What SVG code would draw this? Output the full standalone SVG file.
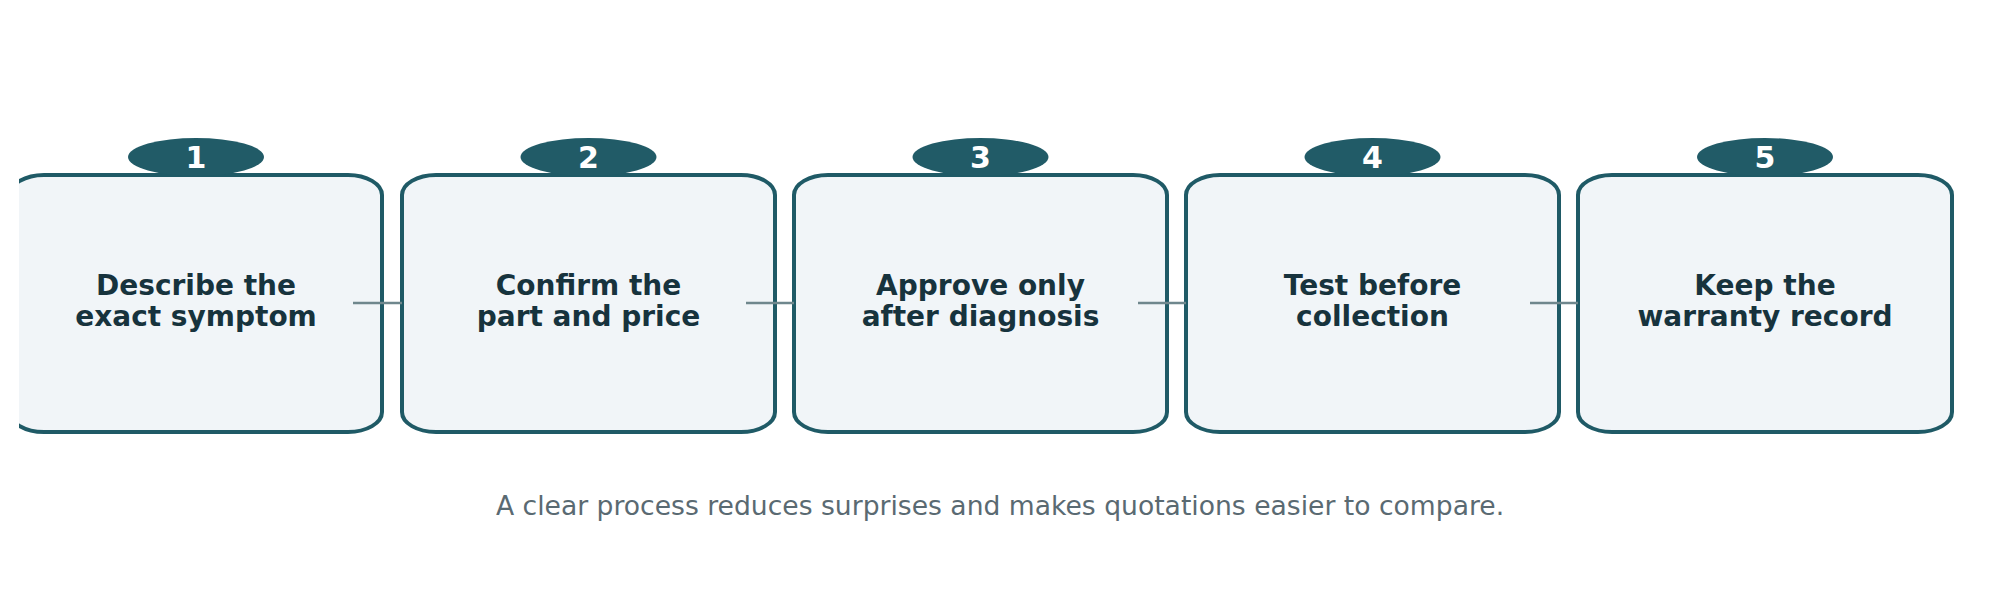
<svg xmlns="http://www.w3.org/2000/svg" width="1999" height="596" viewBox="0 0 1999 596">
<style>
.box{fill:#f1f5f8;stroke:#1f5a66;stroke-width:4}
.badge{fill:#215b67}
.num{fill:#ffffff;font-family:"DejaVu Sans",sans-serif;font-weight:bold;font-size:30px;text-anchor:middle}
.lbl{fill:#17333d;font-family:"DejaVu Sans",sans-serif;font-weight:bold;font-size:28px;text-anchor:middle}
.conn{stroke:#6f878d;stroke-width:2.5;fill:none}
.cap{fill:#5a6a72;font-family:"DejaVu Sans",sans-serif;font-size:26.6px;text-anchor:middle}
</style>
<defs>
<clipPath id="clip1"><rect x="19" y="0" width="1980" height="596"/></clipPath>
</defs>
<rect width="1999" height="596" fill="#ffffff"/>
<g id="node1" clip-path="url(#clip1)">
<rect class="box" x="10" y="175" width="372" height="257" rx="34" ry="20"/>
<ellipse class="badge" cx="196" cy="157" rx="68" ry="19"/>
<text class="num" x="196" y="168">1</text>
<text class="lbl" x="196" y="295">Describe the</text>
<text class="lbl" x="196" y="326">exact symptom</text>
</g>
<g id="node2">
<rect class="box" x="402" y="175" width="373" height="257" rx="34" ry="20"/>
<ellipse class="badge" cx="588.5" cy="157" rx="68" ry="19"/>
<text class="num" x="588.5" y="168">2</text>
<text class="lbl" x="588.5" y="295">Confirm the</text>
<text class="lbl" x="588.5" y="326">part and price</text>
</g>
<g id="node3">
<rect class="box" x="794" y="175" width="373" height="257" rx="34" ry="20"/>
<ellipse class="badge" cx="980.5" cy="157" rx="68" ry="19"/>
<text class="num" x="980.5" y="168">3</text>
<text class="lbl" x="980.5" y="295">Approve only</text>
<text class="lbl" x="980.5" y="326">after diagnosis</text>
</g>
<g id="node4">
<rect class="box" x="1186" y="175" width="373" height="257" rx="34" ry="20"/>
<ellipse class="badge" cx="1372.5" cy="157" rx="68" ry="19"/>
<text class="num" x="1372.5" y="168">4</text>
<text class="lbl" x="1372.5" y="295">Test before</text>
<text class="lbl" x="1372.5" y="326">collection</text>
</g>
<g id="node5">
<rect class="box" x="1578" y="175" width="374" height="257" rx="34" ry="20"/>
<ellipse class="badge" cx="1765" cy="157" rx="68" ry="19"/>
<text class="num" x="1765" y="168">5</text>
<text class="lbl" x="1765" y="295">Keep the</text>
<text class="lbl" x="1765" y="326">warranty record</text>
</g>
<g id="connectors">
<line class="conn" x1="353" y1="303" x2="402" y2="303"/>
<line class="conn" x1="746" y1="303" x2="794" y2="303"/>
<line class="conn" x1="1138" y1="303" x2="1186" y2="303"/>
<line class="conn" x1="1530" y1="303" x2="1578" y2="303"/>
</g>
<text class="cap" x="1000" y="515">A clear process reduces surprises and makes quotations easier to compare.</text>
</svg>
